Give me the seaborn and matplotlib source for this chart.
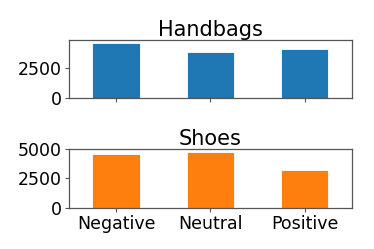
import matplotlib
matplotlib.use("Agg")
import matplotlib.pyplot as plt
import seaborn as sns
import pandas as pd

sentiments = ["Negative", "Neutral", "Positive"]
handbags = [4580, 3810, 4060]
shoes = [4600, 4745, 3240]

df = pd.DataFrame({"sentiment": sentiments, "Handbags": handbags, "Shoes": shoes})

sns.set_style("ticks")
plt.rcParams["font.family"] = ["DejaVu Sans"]
plt.rcParams["text.color"] = "black"
plt.rcParams["xtick.labelcolor"] = "black"
plt.rcParams["ytick.labelcolor"] = "black"

fig = plt.figure(figsize=(3.74, 2.49), dpi=100)
ax1 = fig.add_axes([0.184, 0.606, 0.757, 0.233])
ax2 = fig.add_axes([0.184, 0.166, 0.757, 0.236])

for ax, col, color in [(ax1, "Handbags", "#1f77b4"), (ax2, "Shoes", "#ff7f0e")]:
    sns.barplot(data=df, x="sentiment", y=col, color=color, width=0.5,
                saturation=1, edgecolor="white", linewidth=0.6, ax=ax)
    ax.set_title(col, fontsize=15, pad=3, color="black")
    ax.set_xlabel("")
    ax.set_ylabel("")
    ax.set_xlim(-0.5, 2.5)
    for s in ax.spines.values():
        s.set_visible(True)
        s.set_color("#555555")
        s.set_linewidth(0.9)
    ax.tick_params(labelsize=12.5, length=3, width=0.8, color="#555555",
                   labelcolor="black", pad=2)

ax1.set_ylim(0, 4830)
ax1.set_yticks([0, 2500])
ax1.set_xticklabels([])
ax2.set_ylim(0, 4990)
ax2.set_yticks([0, 2500, 5000])

fig.savefig("out.png", dpi=100)
